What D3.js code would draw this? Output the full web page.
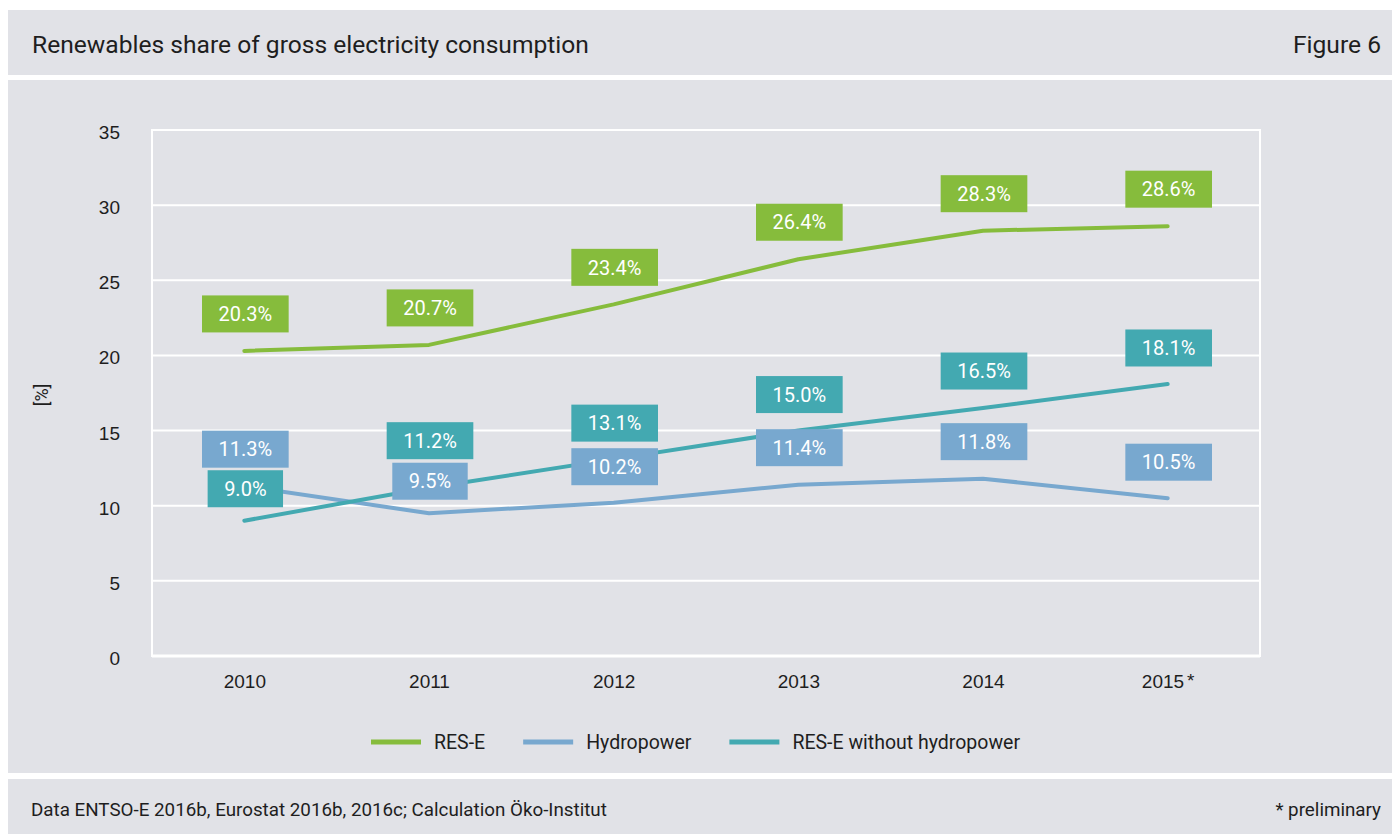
<!DOCTYPE html>
<html>
<head>
<meta charset="utf-8">
<script src="https://cdn.jsdelivr.net/npm/d3@7/dist/d3.min.js"></script>
<style>
  html, body { margin: 0; padding: 0; background: #ffffff; }
  svg { display: block; font-family: Roboto, "Noto Sans", sans-serif; }
</style>
</head>
<body>
<svg id="chart" width="1392" height="834"></svg>
<script>
// ---- data ----
const years = ["2010", "2011", "2012", "2013", "2014", "2015"];
const yearLabels = ["2010", "2011", "2012", "2013", "2014", "2015"];
const resE = [20.3, 20.7, 23.4, 26.4, 28.3, 28.6];
const hydropower = [11.3, 9.5, 10.2, 11.4, 11.8, 10.5];
const resEWithoutHydro = [9.0, 11.2, 13.1, 15.0, 16.5, 18.1];
const yTicks = [0, 5, 10, 15, 20, 25, 30, 35];
const seriesNames = ["RES-E", "Hydropower", "RES-E without hydropower"];

// ---- layout ----
const W = 1392, H = 834;
const bg = "#e1e2e7";
const ink = "#1e1e1e";
const colors = ["#86bc3c", "#78a8cf", "#43a9b1"];
const plot = { left: 152, right: 1260, top: 130, bottom: 656 };
// vertical distance (px) from each point up to the centre of its value box
const labelLift = [
  [37, 37, 37, 37, 37, 37],
  [37, 32, 36, 37, 37, 36],
  [32, 47, 36, 36, 37, 36]
];

const svg = d3.select("#chart");

// panels
svg.append("rect").attr("x", 8).attr("y", 10).attr("width", W - 8).attr("height", 65).attr("fill", bg);
svg.append("rect").attr("x", 8).attr("y", 80).attr("width", W - 8).attr("height", 693).attr("fill", bg);
svg.append("rect").attr("x", 8).attr("y", 779).attr("width", W - 8).attr("height", H - 779).attr("fill", bg);

// header
svg.append("text").attr("x", 32).attr("y", 53)
  .attr("font-size", 24.6).attr("fill", ink)
  .text("Renewables share of gross electricity consumption");
svg.append("text").attr("x", 1381).attr("y", 53).attr("text-anchor", "end")
  .attr("font-size", 24.6).attr("fill", ink)
  .text("Figure 6");

// scales
const x = d3.scalePoint().domain(years).range([plot.left, plot.right]).padding(0.5);
const y = d3.scaleLinear().domain([0, 35]).range([plot.bottom, plot.top]);

// grid
const g = svg.append("g");
g.selectAll("line.grid").data(yTicks).join("line")
  .attr("class", "grid")
  .attr("x1", plot.left).attr("x2", plot.right)
  .attr("y1", d => y(d)).attr("y2", d => y(d))
  .attr("stroke", "#ffffff").attr("stroke-width", d => d === 0 ? 3 : 2);
g.append("line").attr("x1", plot.left).attr("x2", plot.left)
  .attr("y1", plot.top - 1).attr("y2", plot.bottom + 1)
  .attr("stroke", "#ffffff").attr("stroke-width", 2);
g.append("line").attr("x1", plot.right).attr("x2", plot.right)
  .attr("y1", plot.top - 1).attr("y2", plot.bottom + 1)
  .attr("stroke", "#ffffff").attr("stroke-width", 2);

// y axis
const yAxis = d3.axisLeft(y).tickValues(yTicks).tickSize(0).tickPadding(0);
const ya = svg.append("g").attr("transform", `translate(${120},0)`).call(yAxis);
ya.select(".domain").remove();
ya.selectAll("text").attr("font-family", null).attr("font-size", 19)
  .attr("fill", ink).attr("dy", "0.45em");

svg.append("text")
  .attr("transform", `translate(48,${395}) rotate(-90)`)
  .attr("text-anchor", "middle")
  .attr("font-size", 18).attr("fill", ink)
  .text("[%]");

// x axis
const xAxis = d3.axisBottom(x).tickSize(0).tickPadding(0).tickFormat((d, i) => yearLabels[i]);
const xa = svg.append("g").attr("transform", `translate(0,${674})`).call(xAxis);
xa.select(".domain").remove();
xa.selectAll("text").attr("font-family", null).attr("font-size", 19)
  .attr("fill", ink).attr("dy", "0.71em");
xa.selectAll(".tick").filter(d => d === "2015").select("text")
  .append("tspan").attr("dx", 3).attr("dy", "-0.05em").text("*");

// lines
const series = [resE, hydropower, resEWithoutHydro];
const line = d3.line().x((d, i) => x(years[i])).y(d => y(d));
svg.append("g").selectAll("path").data(series).join("path")
  .attr("d", d => line(d))
  .attr("fill", "none")
  .attr("stroke", (d, i) => colors[i])
  .attr("stroke-width", 4)
  .attr("stroke-linecap", "round")
  .attr("stroke-linejoin", "round");

// value boxes
const boxH = 37;
series.forEach((vals, s) => {
  const lg = svg.append("g");
  vals.forEach((v, i) => {
    const cx = x(years[i]) + 1;
    const cy = y(v) - labelLift[s][i];
    const grp = lg.append("g");
    const rect = grp.append("rect").attr("fill", colors[s]);
    const t = grp.append("text")
      .attr("x", cx).attr("y", cy).attr("dy", "0.36em")
      .attr("text-anchor", "middle")
      .attr("font-size", 20)
      .attr("fill", "#ffffff")
      .text(v.toFixed(1) + "%");
    const w = t.node().getComputedTextLength() + 33;
    rect.attr("x", cx - w / 2).attr("y", cy - boxH / 2).attr("width", w).attr("height", boxH);
  });
});

// legend
const legend = svg.append("g");
let lx = 371;
seriesNames.forEach((name, i) => {
  legend.append("line").attr("x1", lx).attr("x2", lx + 50)
    .attr("y1", 742).attr("y2", 742)
    .attr("stroke", colors[i]).attr("stroke-width", 5);
  const t = legend.append("text").attr("x", lx + 63).attr("y", 749)
    .attr("font-size", 19.5).attr("fill", ink).text(name);
  lx += 63 + t.node().getComputedTextLength() + 38;
});

// footer
svg.append("text").attr("x", 31).attr("y", 816)
  .attr("font-size", 18.8).attr("fill", ink)
  .text("Data ENTSO-E 2016b, Eurostat 2016b, 2016c; Calculation Öko-Institut");
svg.append("text").attr("x", 1381).attr("y", 816)
  .attr("text-anchor", "end").attr("font-size", 18.8).attr("fill", ink)
  .text("* preliminary");
</script>
</body>
</html>
